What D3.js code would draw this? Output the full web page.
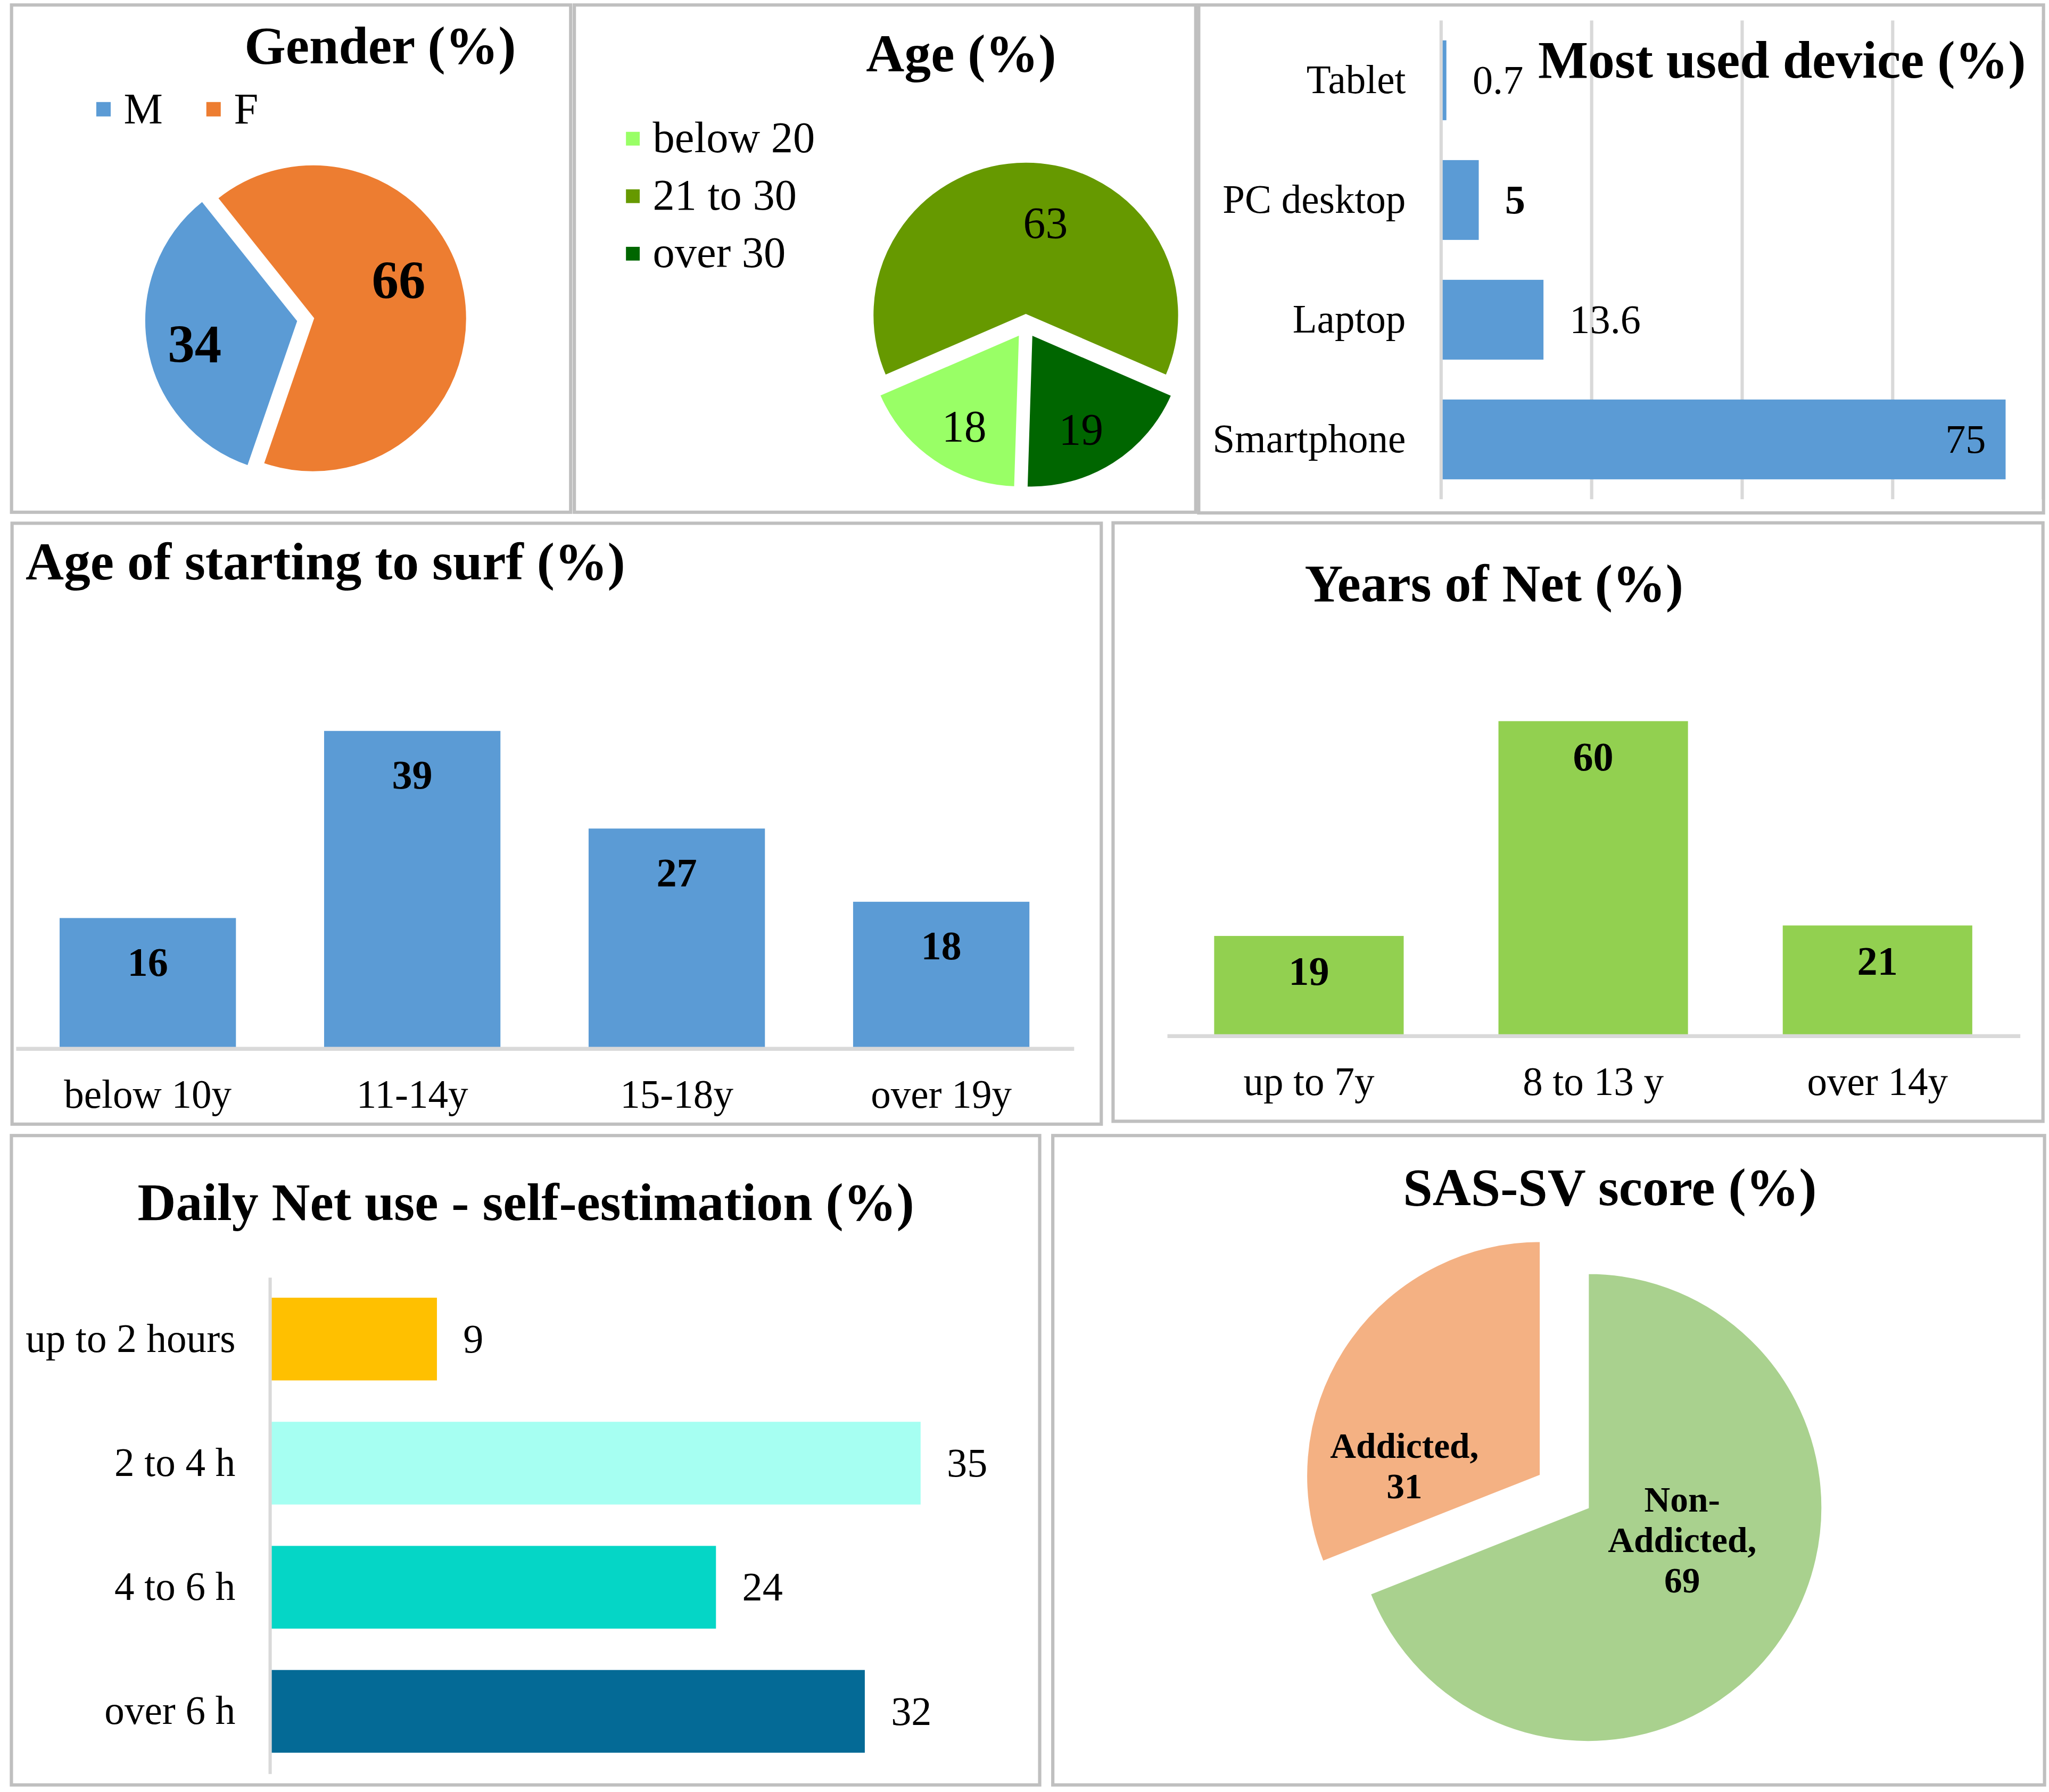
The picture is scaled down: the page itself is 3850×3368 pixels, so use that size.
<!DOCTYPE html>
<html>
<head>
<meta charset="utf-8">
<script src="https://cdn.jsdelivr.net/npm/d3@7"></script>
<style>
html, body { margin:0; padding:0; background:#fff; }
svg { display:block; }
</style>
</head>
<body>
<figure class="app-survey" style="margin:0"></figure>
<script>
// DATA
//============
var gender_labels = ['M', 'F'];
var gender_values = [34, 66];

var age_labels = ['below 20', '21 to 30', 'over 30'];
var age_values = [18, 63, 19];

var device_labels = ['Tablet', 'PC desktop', 'Laptop', 'Smartphone'];
var device_values = [0.7, 5, 13.6, 75];

var surf_labels = ['below 10y', '11-14y', '15-18y', 'over 19y'];
var surf_values = [16, 39, 27, 18];

var net_labels = ['up to 7y', '8 to 13 y', 'over 14y'];
var net_values = [19, 60, 21];

var daily_labels = ['up to 2 hours', '2 to 4 h', '4 to 6 h', 'over 6 h'];
var daily_values = [9, 35, 24, 32];

var sas_labels = ['Non-Addicted', 'Addicted'];
var sas_values = [69, 31];

// LAYOUT (drawn in a 1564 wide space, scaled up to the page)
//============
var W = 1564, H = 1368.2;
var font = '"Liberation Serif", "Times New Roman", Times, serif';
var title_size = 40.5, label_size = 30.5, legend_size = 33.5;
var border_color = '#bfbfbf', axis_color = '#d9d9d9';

var panels = [
    [8.8, 3.8, 435.6, 391.1],
    [438.4, 3.8, 912.7, 391.1],
    [915, 3.8, 1559.8, 391.6],
    [9.2, 399.5, 840.6, 858.3],
    [849.6, 399.2, 1559.4, 856.1],
    [8.7, 867, 793.6, 1362.8],
    [803.6, 867, 1560.6, 1362.8]
];

var svg = d3.select('figure.app-survey')
    .append('svg')
    .attr('width', 3850)
    .attr('height', 3368)
    .attr('viewBox', '0 0 ' + W + ' ' + H)
    .attr('preserveAspectRatio', 'none')
    .attr('font-family', font)
;
svg.append('rect').attr('width', W).attr('height', H).attr('fill', 'white');

var deg = Math.PI / 180;

// FUNCTIONS
//============

function add_title(x, y, txt, anchor){
    svg.append('text')
        .attr('x', x)
        .attr('y', y)
        .attr('text-anchor', anchor)
        .attr('font-size', title_size)
        .attr('font-weight', 'bold')
        .attr('fill', 'black')
        .text(txt);
}

function draw_pie(opt){
    var pie = d3.pie().sort(null)
        .startAngle(opt.start)
        .endAngle(opt.start + 2 * Math.PI);
    var arcs = pie(opt.values);
    var arc = d3.arc().innerRadius(0).outerRadius(opt.r);
    var lr = opt.r * opt.label_r;
    var label_arc = d3.arc().innerRadius(lr).outerRadius(lr);

    var g = svg.append('g')
        .attr('transform', 'translate(' + opt.cx + ',' + opt.cy + ')');
    var slices = g.selectAll('g')
        .data(arcs)
        .enter()
        .append('g')
        .attr('transform', function(d, i){
            var a = (d.startAngle + d.endAngle) / 2;
            var e = opt.explode[i];
            return 'translate(' + (e * Math.sin(a)) + ',' + (-e * Math.cos(a)) + ')';
        });
    slices.append('path')
        .attr('d', arc)
        .attr('fill', function(d, i){ return opt.colors[i]; })
        .attr('stroke', 'white')
        .attr('stroke-width', 1.5);

    slices.append('text')
        .attr('text-anchor', 'middle')
        .attr('font-size', opt.font_size)
        .attr('font-weight', opt.weight)
        .attr('fill', 'black')
        .attr('transform', function(d, i){
            var c = label_arc.centroid(d);
            return 'translate(' + (c[0] + opt.nudge[i][0]) + ',' + (c[1] + opt.nudge[i][1]) + ')';
        })
        .each(function(d, i){
            var lines = opt.text(d, i);
            var t = d3.select(this);
            lines.forEach(function(line, k){
                t.append('tspan')
                    .attr('x', 0)
                    .attr('y', (k - (lines.length - 1) / 2) * opt.line_h)
                    .attr('dy', '0.33em')
                    .text(line);
            });
        });
}

function draw_vbars(opt){
    var x = d3.scaleBand()
        .domain(opt.labels)
        .range([opt.x0, opt.x1])
        .paddingInner(1/3)
        .paddingOuter(1/6);
    var y = d3.scaleLinear()
        .domain([0, opt.max])
        .range([opt.base, opt.base - opt.h]);

    var g = svg.append('g');
    g.selectAll('rect')
        .data(opt.values)
        .enter()
        .append('rect')
        .attr('x', function(d, i){ return x(opt.labels[i]); })
        .attr('y', function(d){ return y(d); })
        .attr('width', x.bandwidth())
        .attr('height', function(d){ return y(0) - y(d); })
        .attr('fill', opt.color);

    var axis = g.append('g')
        .attr('transform', 'translate(0,' + opt.base + ')')
        .call(d3.axisBottom(x).tickSize(0).tickSizeOuter(0).tickPadding(opt.pad));
    axis.select('.domain').attr('stroke', axis_color).attr('stroke-width', 3);
    axis.selectAll('text')
        .attr('font-family', font)
        .attr('font-size', label_size)
        .attr('fill', 'black');

    g.selectAll('text.value')
        .data(opt.values)
        .enter()
        .append('text')
        .attr('class', 'value')
        .attr('x', function(d, i){ return x(opt.labels[i]) + x.bandwidth() / 2; })
        .attr('y', function(d){ return y(d) + opt.label_off; })
        .attr('text-anchor', 'middle')
        .attr('font-size', 31)
        .attr('font-weight', 'bold')
        .attr('fill', 'black')
        .text(function(d){ return d; });
}

function draw_hbars(opt){
    var y = d3.scaleBand()
        .domain(opt.labels)
        .range([opt.y0, opt.y1])
        .paddingInner(1/3)
        .paddingOuter(1/6);
    var x = d3.scaleLinear()
        .domain([0, opt.max])
        .range([opt.x0, opt.x0 + opt.w]);

    var g = svg.append('g');
    if (opt.grid) {
        g.selectAll('line.grid')
            .data(x.ticks(4))
            .enter()
            .append('line')
            .attr('class', 'grid')
            .attr('x1', function(d){ return x(d); })
            .attr('x2', function(d){ return x(d); })
            .attr('y1', opt.y0)
            .attr('y2', opt.y1)
            .attr('stroke', axis_color)
            .attr('stroke-width', 2.5);
    }

    g.selectAll('rect')
        .data(opt.values)
        .enter()
        .append('rect')
        .attr('x', x(0) + opt.bar_gap)
        .attr('y', function(d, i){ return y(opt.labels[i]); })
        .attr('width', function(d){ return x(d) - x(0) - opt.bar_gap; })
        .attr('height', y.bandwidth())
        .attr('fill', function(d, i){ return opt.colors[i]; });

    var axis = g.append('g')
        .attr('transform', 'translate(' + opt.x0 + ',0)')
        .call(d3.axisLeft(y).tickSize(0).tickSizeOuter(0).tickPadding(opt.pad));
    axis.select('.domain')
        .attr('stroke', opt.grid ? 'none' : axis_color)
        .attr('stroke-width', 2.5);
    axis.selectAll('text')
        .attr('font-family', font)
        .attr('font-size', label_size)
        .attr('fill', 'black');

    g.selectAll('text.value')
        .data(opt.values)
        .enter()
        .append('text')
        .attr('class', 'value')
        .attr('x', function(d){ return d > opt.inside_from ? x(d) - 15 : x(d) + 20; })
        .attr('y', function(d, i){ return y(opt.labels[i]) + y.bandwidth() / 2; })
        .attr('dy', '0.33em')
        .attr('text-anchor', function(d){ return d > opt.inside_from ? 'end' : 'start'; })
        .attr('font-size', 31)
        .attr('font-weight', function(d, i){ return opt.weights ? opt.weights[i] : 'normal'; })
        .attr('fill', 'black')
        .text(function(d){ return d; });
}

// GENDER
//============
add_title(290.2, 48.5, 'Gender (%)', 'middle');
var gender_colors = ['#5b9bd5', '#ed7d31'];
var gender_leg = svg.append('g')
    .selectAll('g')
    .data(gender_labels)
    .enter()
    .append('g')
    .attr('transform', function(d, i){ return 'translate(' + (73.5 + i * 84) + ',83.4)'; });
gender_leg.append('rect')
    .attr('x', 0).attr('y', -5.5)
    .attr('width', 11).attr('height', 11)
    .attr('fill', function(d, i){ return gender_colors[i]; });
gender_leg.append('text')
    .attr('x', 21)
    .attr('dy', '0.32em')
    .attr('font-size', legend_size)
    .text(function(d){ return d; });

draw_pie({
    values: gender_values, colors: gender_colors,
    cx: 238, cy: 243.2, r: 117.5, start: 199 * deg,
    explode: [10.5, 1], label_r: 0.65,
    nudge: [[-3.8, 5], [-10, -15.5]],
    font_size: 41, weight: 'bold', line_h: 0,
    text: function(d){ return [String(d.data)]; }
});

// AGE
//============
add_title(733.6, 54.3, 'Age (%)', 'middle');
var age_colors = ['#99ff66', '#669900', '#006600'];
var age_leg = svg.append('g')
    .selectAll('g')
    .data(age_labels)
    .enter()
    .append('g')
    .attr('transform', function(d, i){ return 'translate(477.8,' + (105.9 + i * 43.9) + ')'; });
age_leg.append('rect')
    .attr('x', 0).attr('y', -5.25)
    .attr('width', 10.5).attr('height', 10.5)
    .attr('fill', function(d, i){ return age_colors[i]; });
age_leg.append('text')
    .attr('x', 20.5)
    .attr('dy', '0.31em')
    .attr('font-size', legend_size)
    .text(function(d){ return d; });

draw_pie({
    values: age_values, colors: age_colors,
    cx: 783, cy: 248.5, r: 117, start: 181.8 * deg,
    explode: [8, 8, 8], label_r: 0.7,
    nudge: [[3.5, 3], [15, 12], [-6, 4]],
    font_size: 34, weight: 'normal', line_h: 0,
    text: function(d){ return [String(d.data)]; }
});

// MOST USED DEVICE
//============
draw_hbars({
    labels: device_labels, values: device_values,
    colors: device_values.map(function(){ return '#5b9bd5'; }),
    y0: 15.6, y1: 381.2, x0: 1100, w: 459.6, max: 80,
    grid: true, bar_gap: 1.2, pad: 27, inside_from: 60,
    weights: ['normal', 'bold', 'normal', 'normal']
});
add_title(1174, 59.4, 'Most used device (%)', 'start');

// AGE OF STARTING TO SURF
//============
add_title(19.5, 442.4, 'Age of starting to surf (%)', 'start');
draw_vbars({
    labels: surf_labels, values: surf_values, color: '#5b9bd5',
    x0: 11.85, x1: 819.4, base: 800.3, h: 279.5, max: 45,
    pad: 24, label_off: 44
});

// YEARS OF NET
//============
add_title(1140.4, 459, 'Years of Net (%)', 'middle');
draw_vbars({
    labels: net_labels, values: net_values, color: '#92d050',
    x0: 890.6, x1: 1541.6, base: 790.6, h: 280, max: 70,
    pad: 23.7, label_off: 37.5
});

// DAILY NET USE
//============
add_title(401.4, 931.4, 'Daily Net use - self-estimation (%)', 'middle');
draw_hbars({
    labels: daily_labels, values: daily_values,
    colors: ['#ffc000', '#a6fff2', '#05d6c6', '#046a96'],
    y0: 975, y1: 1354, x0: 205.7, w: 568, max: 40,
    grid: false, bar_gap: 1.3, pad: 26, inside_from: 100
});

// SAS-SV SCORE
//============
add_title(1228.8, 920, 'SAS-SV score (%)', 'middle');
draw_pie({
    values: sas_values, colors: ['#a9d18e', '#f4b183'],
    cx: 1212, cy: 1151, r: 179, start: 0,
    explode: [0, 43.5], label_r: 0.5,
    nudge: [[-2, -25.3], [-30, 43.2]],
    font_size: 27.4, weight: 'bold', line_h: 31,
    text: function(d, i){
        var name = sas_labels[i].replace('-', '-\n') + ',';
        return name.split('\n').concat([String(d.data)]);
    }
});

// PANEL BORDERS
//============
svg.append('g')
    .selectAll('rect')
    .data(panels)
    .enter()
    .append('rect')
    .attr('x', function(d){ return d[0]; })
    .attr('y', function(d){ return d[1]; })
    .attr('width', function(d){ return d[2] - d[0]; })
    .attr('height', function(d){ return d[3] - d[1]; })
    .attr('fill', 'none')
    .attr('stroke', border_color)
    .attr('stroke-width', 2.5);
</script>
</body>
</html>
